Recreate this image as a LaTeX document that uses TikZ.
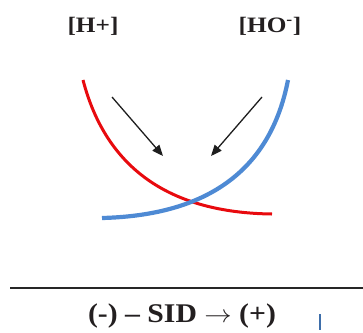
\documentclass[tikz,border=0pt]{standalone}
\usepackage{fontspec}
\setmainfont{Liberation Serif}
\usetikzlibrary{arrows.meta}
\definecolor{hred}{RGB}{232,10,14}
\definecolor{hblue}{RGB}{78,138,212}
\definecolor{arrowgray}{RGB}{30,30,30}
\definecolor{txt}{RGB}{35,31,32}
\tikzset{
  lbl/.style={font=\bfseries\fontsize{22}{24}\selectfont, text=txt, inner sep=0pt},
  axislbl/.style={font=\bfseries\fontsize{27}{30}\selectfont, text=txt, inner sep=0pt},
  pointer/.style={draw=arrowgray, line width=1.3pt, -{Triangle[length=11pt,width=9pt]}},
}
\begin{document}
\begin{tikzpicture}[x=1pt,y=-1pt]
\useasboundingbox (0,0) rectangle (363,332);
\node[lbl] (hplus) at (93,26) {\scalebox{1.15}[1]{[H+]}};
\node[lbl] (hominus) at (270,26) {\scalebox{1.15}[1]{[HO\textsuperscript{-}]}};
% curves
\coordinate (r0) at (83,80);
\coordinate (r1) at (272,214);
\coordinate (b0) at (288,80);
\coordinate (b1) at (102,218);
\draw[hred, line width=3pt] (r0) .. controls (106,168) and (169,212.7) .. (r1);
\draw[hblue, line width=4.2pt] (b0) .. controls (270.7,169.3) and (208.7,215.3) .. (b1);
% arrows
\coordinate (la) at (112,97);
\coordinate (lb) at (163,156);
\coordinate (ra) at (262,97);
\coordinate (rb) at (211,156);
\draw[pointer] (la) -- (lb);
\draw[pointer] (ra) -- (rb);
% axis
\coordinate (ax0) at (10,288);
\coordinate (ax1) at (363,288);
\draw[black!85, line width=1.8pt] (ax0) -- (ax1);
\node[axislbl] (sid) at (182,316) {\scalebox{1.1}[1]{(-) – SID $\rightarrow$ (+)}};
\coordinate (t0) at (320,314);
\coordinate (t1) at (320,330);
\draw[hblue!80!black, line width=1.5pt] (t0) -- (t1);
\end{tikzpicture}
\end{document}
